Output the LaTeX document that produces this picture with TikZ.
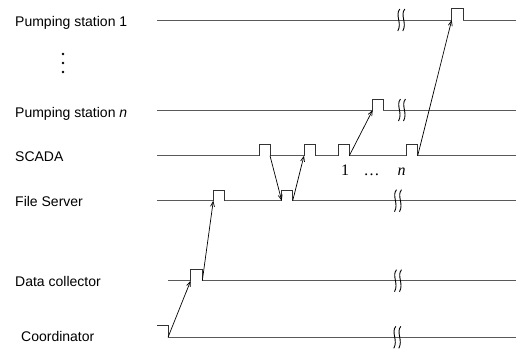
\documentclass[tikz,border=0pt]{standalone}
\usepackage{fontspec}
\setmainfont{Liberation Sans}
\newfontfamily\serifnum{Liberation Serif}
\usetikzlibrary{arrows.meta}
\begin{document}
\begin{tikzpicture}[x=1pt,y=-1pt,
  timeline/.style={draw=black!65, line width=1pt},
  pulse/.style={draw=black!80, line width=0.9pt},
  msg/.style={draw=black, line width=0.7pt, -{Straight Barb[length=5pt,width=4pt]}},
  brk/.style={draw=black, line width=0.9pt},
  lbl/.style={anchor=base west, inner sep=0pt, font=\fontsize{14}{16}\selectfont},
  num/.style={anchor=base, inner sep=0pt, font=\serifnum\fontsize{16}{18}\selectfont}]
\useasboundingbox (0,0) rectangle (516,349);
\fill[white] (0,0) rectangle (516,349);
% labels
\node[lbl] (lps1) at (15,26.7) {Pumping station 1};
\node[lbl] (lpsn) at (15,117.3) {Pumping station \textit{n}};
\node[lbl] (lscada) at (15,161.7) {SCADA};
\node[lbl] (lfs) at (15,206.7) {File Server};
\node[lbl] (ldc) at (15,286.7) {Data collector};
\node[lbl] (lco) at (21,341.7) {Coordinator};
\foreach \yy in {54,63,72} \fill (63,\yy) circle (1.3pt);
% coordinates of pulse feet
\coordinate (co0) at (168,337.3);
\coordinate (dcL) at (190.7,280.7);
\coordinate (dcR) at (202.3,280.7);
\coordinate (fs1L) at (213.3,200.7);
\coordinate (fs1R) at (224.7,200.7);
\coordinate (fs2L) at (281.7,200.7);
\coordinate (fs2R) at (292.7,200.7);
\coordinate (sc1L) at (259.3,155.7);
\coordinate (sc1R) at (270,155.7);
\coordinate (sc2L) at (304,155.7);
\coordinate (sc2R) at (315,155.7);
\coordinate (sc3L) at (338.3,155.7);
\coordinate (sc3R) at (349.3,155.7);
\coordinate (sc4L) at (406,155.7);
\coordinate (sc4R) at (417.7,155.7);
\coordinate (pnL) at (372.7,110);
\coordinate (pnR) at (383.3,110);
\coordinate (p1L) at (451.7,20);
\coordinate (p1R) at (463.3,20);
% timelines
\draw[timeline] (157,20) -- (p1L);
\draw[timeline] (p1R) -- (516,20);
\draw[pulse] (p1L) -- ++(0,-11.5) -| (p1R);
\draw[timeline] (157,110) -- (pnL);
\draw[timeline] (pnR) -- (516,110);
\draw[pulse] (pnL) -- ++(0,-11) -| (pnR);
\draw[timeline] (157,155.7) -- (sc1L);
\draw[timeline] (sc1R) -- (sc2L);
\draw[timeline] (sc2R) -- (sc3L);
\draw[timeline] (sc3R) -- (sc4L);
\draw[timeline] (sc4R) -- (516,155.7);
\foreach \a/\b in {sc1L/sc1R,sc2L/sc2R,sc3L/sc3R,sc4L/sc4R}
  \draw[pulse] (\a) -- ++(0,-11.4) -| (\b);
\draw[timeline] (157,200.7) -- (fs1L);
\draw[timeline] (fs1R) -- (fs2L);
\draw[timeline] (fs2R) -- (516,200.7);
\foreach \a/\b in {fs1L/fs1R,fs2L/fs2R}
  \draw[pulse] (\a) -- ++(0,-10.7) -| (\b);
\draw[timeline] (168,280.7) -- (dcL);
\draw[timeline] (dcR) -- (516,280.7);
\draw[pulse] (dcL) -- ++(0,-11.4) -| (dcR);
\draw[pulse] (157,325.7) -- (168,325.7) -- (co0);
\draw[timeline] (co0) -- (516,337.3);
% breaks
\foreach \cx/\cy in {400.8/20, 401.5/110, 397.5/200.7, 397.5/280.7, 396.8/337.3}
  \foreach \dx in {-2.5,2.5}
    \draw[brk] (\cx+\dx+1.5,\cy-11) .. controls (\cx+\dx-3.5,\cy-5) and (\cx+\dx+4,\cy+3) .. (\cx+\dx-0.5,\cy+11);
% messages
\draw[msg] (co0) -- (dcL);
\draw[msg] (dcR) -- (fs1L);
\draw[msg] (sc1R) -- (fs2L);
\draw[msg] (fs2R) -- (sc2L);
\draw[msg] (sc3R) -- (pnL);
\draw[msg] (sc4R) -- (p1L);
% numbering
\node[num] (n1) at (345,175) {1};
\node[num] (ndots) at (371.5,175) {\ldots};
\node[num] (nn) at (401.7,175) {\textit{n}};
\end{tikzpicture}
\end{document}
